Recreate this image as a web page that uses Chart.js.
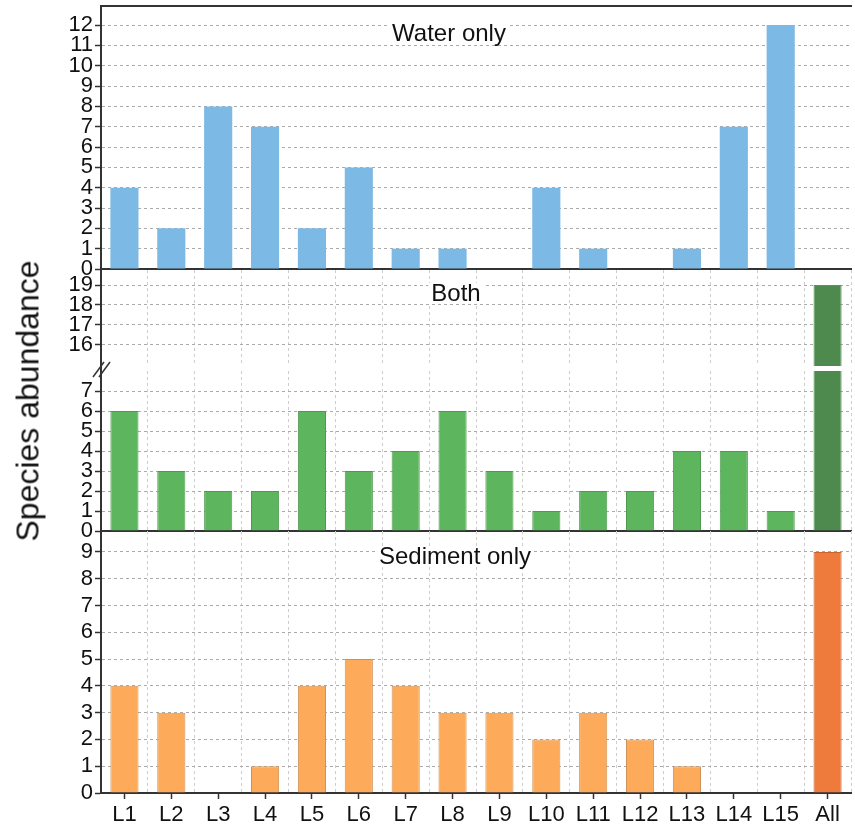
<!DOCTYPE html>
<html>
<head>
<meta charset="utf-8">
<script src="https://cdn.jsdelivr.net/npm/chart.js@4.4.1/dist/chart.umd.min.js"></script>
<style>
  html, body { margin: 0; padding: 0; background: #fff; }
  #wrap { position: relative; width: 855px; height: 827px; overflow: hidden; font-family: "Liberation Sans", Arial, sans-serif; }
  #wrap canvas { position: absolute; left: 0; }
  .ttl { position: absolute; background: #fff; color: #111; font-size: 24px; line-height: 20px; height: 20px; padding: 0 3px; transform: translateX(-50%); white-space: nowrap; }
  #ylab { position: absolute; left: 28px; top: 401px; transform: translate(-50%, -50%) rotate(-90deg); font-size: 32px; white-space: nowrap; color: #111; }
</style>
</head>
<body>
<div id="wrap">
  <canvas id="cWater" width="855" height="290" style="top:0px"></canvas>
  <canvas id="cBothHi" width="855" height="120" style="top:260px"></canvas>
  <canvas id="cBothLo" width="855" height="181" style="top:360px"></canvas>
  <canvas id="cSed" width="855" height="307" style="top:520px"></canvas>
  <div class="ttl" style="left:449px; top:23px;">Water only</div>
  <div class="ttl" style="left:456px; top:283px;">Both</div>
  <div class="ttl" style="left:455px; top:546px;">Sediment only</div>
  <div id="ylab">Species abundance</div>
</div>
<script>
const categories = ['L1', 'L2', 'L3', 'L4', 'L5', 'L6', 'L7', 'L8', 'L9', 'L10', 'L11', 'L12', 'L13', 'L14', 'L15', 'All'];
const waterOnly = [4, 2, 8, 7, 2, 5, 1, 1, 0, 4, 1, 0, 1, 7, 12, null];
const both = [6, 3, 2, 2, 6, 3, 4, 6, 3, 1, 2, 2, 4, 4, 1, 19];
const sedimentOnly = [4, 3, 0, 1, 4, 5, 4, 3, 3, 2, 3, 2, 1, 0, 0, 9];

const waterTicks = [0, 1, 2, 3, 4, 5, 6, 7, 8, 9, 10, 11, 12];
const bothUpperTicks = [16, 17, 18, 19];
const bothLowerTicks = [0, 1, 2, 3, 4, 5, 6, 7];
const sedimentTicks = [0, 1, 2, 3, 4, 5, 6, 7, 8, 9];

Chart.defaults.font.family = '"Liberation Sans", Arial, sans-serif';
Chart.defaults.color = '#111';
Chart.defaults.animation = false;

const AXIS = '#333';
const GRID_H = '#aaaaaa';
const GRID_V = '#cdcdcd';

const BLUE = '#7cb9e4';
const GREEN = '#5db55d', GREEN_ALL = '#4e8a4e', GREEN_EDGE = '#4f9a4f';
const ORANGE = '#fdaa5a', ORANGE_ALL = '#ee7b3c', ORANGE_EDGE = '#cf9155';

const colorFor = (base, all) => categories.map(c => c === 'All' ? all : base);

// keep label overhang from shrinking the plot area
const noOverhang = s => { s.paddingTop = 0; s.paddingBottom = 0; s.paddingLeft = 0; s.paddingRight = 0; };

function yAxis(min, max, tickValues) {
  return {
    min: min,
    max: max,
    afterBuildTicks: s => { s.ticks = tickValues.map(v => ({ value: v })); },
    afterFit: s => { s.width = 101; noOverhang(s); },
    ticks: { autoSkip: false, padding: 2, font: { size: 22 }, color: '#111' },
    grid: {
      color: c => (c.tick && c.tick.value === 0) ? 'rgba(0,0,0,0)' : GRID_H,
      tickColor: AXIS, tickLength: 6, tickWidth: 1.5
    },
    border: { color: AXIS, width: 2, dash: [3, 3] }
  };
}

function vGrid() {
  return {
    type: 'category', position: 'bottom', offset: true,
    afterFit: noOverhang,
    ticks: { display: false },
    grid: { offset: true, drawTicks: false, color: GRID_V, lineWidth: 1 },
    border: { display: false, dash: [3, 3] }
  };
}

function plainX(pos) {
  return {
    type: 'category', position: pos, offset: true,
    afterFit: noOverhang,
    ticks: { display: false },
    grid: { display: false, drawTicks: false },
    border: { color: AXIS, width: 2 }
  };
}

function barSet(values, bg, edge, width) {
  return {
    data: values, backgroundColor: bg, borderColor: edge, borderWidth: width,
    barPercentage: 0.6, categoryPercentage: 1, clip: 0, xAxisID: 'x', yAxisID: 'y'
  };
}

const baseOpts = (padding, scales) => ({
  responsive: false,
  animation: false,
  layout: { padding: padding, autoPadding: false },
  plugins: { legend: { display: false }, tooltip: { enabled: false } },
  scales: scales
});

// axis break on the left axis between the two parts of the middle panel
const breakMark = {
  id: 'breakMark',
  afterDraw(chart) {
    const { ctx, chartArea } = chart;
    const x = chartArea.left;
    const y = chartArea.top;
    ctx.save();
    ctx.strokeStyle = AXIS;
    ctx.lineWidth = 2;
    ctx.beginPath(); ctx.moveTo(x, y + 1); ctx.lineTo(x, y - 6); ctx.stroke();
    ctx.lineWidth = 1.5;
    [-3, 3].forEach(dx => {
      ctx.beginPath();
      ctx.moveTo(x + dx - 5, y + 6);
      ctx.lineTo(x + dx + 6, y - 9);
      ctx.stroke();
    });
    ctx.restore();
  }
};

new Chart(document.getElementById('cWater'), {
  type: 'bar',
  data: { labels: categories, datasets: [barSet(waterOnly, BLUE, BLUE, 0)] },
  options: baseOpts({ top: 6, bottom: 21, left: 0, right: 4 }, {
    x: plainX('bottom'),
    xTop: plainX('top'),
    y: yAxis(0, 12.94, waterTicks)
  })
});

new Chart(document.getElementById('cBothHi'), {
  type: 'bar',
  data: { labels: categories, datasets: [barSet(both, colorFor(GREEN, GREEN_ALL), GREEN_EDGE, 1)] },
  options: baseOpts({ top: 10, bottom: 14, left: 0, right: 4 }, {
    x: vGrid(),
    y: yAxis(14.95, 19.75, bothUpperTicks)
  })
});

new Chart(document.getElementById('cBothLo'), {
  type: 'bar',
  data: { labels: categories, datasets: [barSet(both, colorFor(GREEN, GREEN_ALL), GREEN_EDGE, 1)] },
  options: baseOpts({ top: 11, bottom: 10, left: 0, right: 4 }, {
    x: Object.assign(vGrid(), { border: { display: true, color: AXIS, width: 2, dash: [3, 3] } }),
    y: yAxis(0, 8, bothLowerTicks)
  }),
  plugins: [breakMark]
});

new Chart(document.getElementById('cSed'), {
  type: 'bar',
  data: { labels: categories, datasets: [barSet(sedimentOnly, colorFor(ORANGE, ORANGE_ALL), colorFor(ORANGE_EDGE, '#c9652e'), 1)] },
  options: baseOpts({ top: 11, bottom: 0, left: 0, right: 4 }, {
    x: {
      type: 'category', position: 'bottom', offset: true,
      afterFit: s => { s.height = 34; noOverhang(s); },
      grid: { offset: false, drawOnChartArea: false, tickLength: 6, tickColor: AXIS, tickWidth: 1.5 },
      border: { color: AXIS, width: 2 },
      ticks: { font: { size: 22 }, color: '#111', padding: 3, maxRotation: 0, autoSkip: false }
    },
    xg: vGrid(),
    y: yAxis(0, 9.78, sedimentTicks)
  })
});
</script>
</body>
</html>
